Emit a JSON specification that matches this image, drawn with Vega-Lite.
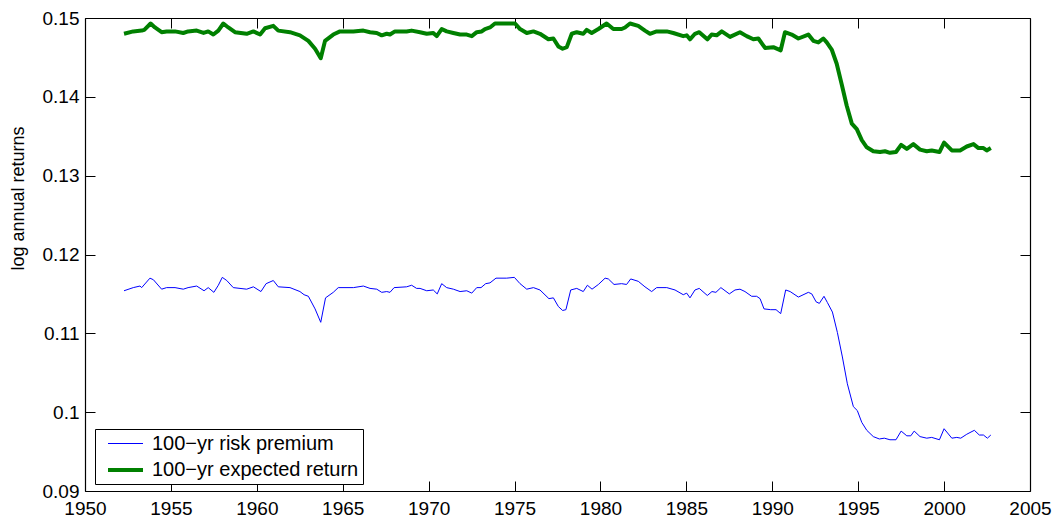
{
  "$schema": "https://vega.github.io/schema/vega-lite/v6.json",
  "width": 945,
  "height": 473,
  "autosize": {"type": "none"},
  "padding": {"left": 85, "top": 18, "right": 26, "bottom": 29},
  "background": "white",
  "config": {
    "view": {"stroke": null},
    "font": "Liberation Sans",
    "axis": {
      "domainColor": "black",
      "domainWidth": 1.2,
      "tickColor": "black",
      "tickWidth": 1,
      "tickSize": -10,
      "grid": false,
      "labelFont": "Liberation Sans",
      "labelFontSize": 19,
      "labelColor": "black",
      "titleFont": "Liberation Sans",
      "titleColor": "black",
      "titleFontWeight": "normal"
    }
  },
  "data": {
    "values": [
      {"year": 1952.27, "value": 0.1480, "series": "100−yr expected return"},
      {"year": 1952.81, "value": 0.1483, "series": "100−yr expected return"},
      {"year": 1953.30, "value": 0.1484, "series": "100−yr expected return"},
      {"year": 1953.45, "value": 0.1485, "series": "100−yr expected return"},
      {"year": 1953.82, "value": 0.1493, "series": "100−yr expected return"},
      {"year": 1954.07, "value": 0.1488, "series": "100−yr expected return"},
      {"year": 1954.46, "value": 0.1482, "series": "100−yr expected return"},
      {"year": 1954.75, "value": 0.1483, "series": "100−yr expected return"},
      {"year": 1955.24, "value": 0.1483, "series": "100−yr expected return"},
      {"year": 1955.72, "value": 0.1481, "series": "100−yr expected return"},
      {"year": 1956.00, "value": 0.1483, "series": "100−yr expected return"},
      {"year": 1956.50, "value": 0.1484, "series": "100−yr expected return"},
      {"year": 1956.90, "value": 0.1481, "series": "100−yr expected return"},
      {"year": 1957.17, "value": 0.1483, "series": "100−yr expected return"},
      {"year": 1957.47, "value": 0.1479, "series": "100−yr expected return"},
      {"year": 1957.76, "value": 0.1484, "series": "100−yr expected return"},
      {"year": 1958.05, "value": 0.1493, "series": "100−yr expected return"},
      {"year": 1958.34, "value": 0.1488, "series": "100−yr expected return"},
      {"year": 1958.73, "value": 0.1482, "series": "100−yr expected return"},
      {"year": 1959.41, "value": 0.1480, "series": "100−yr expected return"},
      {"year": 1959.80, "value": 0.1483, "series": "100−yr expected return"},
      {"year": 1960.19, "value": 0.1479, "series": "100−yr expected return"},
      {"year": 1960.48, "value": 0.1487, "series": "100−yr expected return"},
      {"year": 1960.96, "value": 0.1490, "series": "100−yr expected return"},
      {"year": 1961.25, "value": 0.1484, "series": "100−yr expected return"},
      {"year": 1961.93, "value": 0.1482, "series": "100−yr expected return"},
      {"year": 1962.51, "value": 0.1478, "series": "100−yr expected return"},
      {"year": 1963.00, "value": 0.1471, "series": "100−yr expected return"},
      {"year": 1963.39, "value": 0.1461, "series": "100−yr expected return"},
      {"year": 1963.72, "value": 0.1449, "series": "100−yr expected return"},
      {"year": 1963.97, "value": 0.1471, "series": "100−yr expected return"},
      {"year": 1964.45, "value": 0.1479, "series": "100−yr expected return"},
      {"year": 1964.84, "value": 0.1483, "series": "100−yr expected return"},
      {"year": 1965.62, "value": 0.1483, "series": "100−yr expected return"},
      {"year": 1966.20, "value": 0.1484, "series": "100−yr expected return"},
      {"year": 1966.59, "value": 0.1482, "series": "100−yr expected return"},
      {"year": 1966.98, "value": 0.1481, "series": "100−yr expected return"},
      {"year": 1967.27, "value": 0.1478, "series": "100−yr expected return"},
      {"year": 1967.56, "value": 0.1480, "series": "100−yr expected return"},
      {"year": 1967.75, "value": 0.1479, "series": "100−yr expected return"},
      {"year": 1968.04, "value": 0.1483, "series": "100−yr expected return"},
      {"year": 1968.72, "value": 0.1483, "series": "100−yr expected return"},
      {"year": 1969.01, "value": 0.1484, "series": "100−yr expected return"},
      {"year": 1969.50, "value": 0.1482, "series": "100−yr expected return"},
      {"year": 1969.89, "value": 0.1480, "series": "100−yr expected return"},
      {"year": 1970.27, "value": 0.1481, "series": "100−yr expected return"},
      {"year": 1970.47, "value": 0.1477, "series": "100−yr expected return"},
      {"year": 1970.76, "value": 0.1486, "series": "100−yr expected return"},
      {"year": 1971.05, "value": 0.1483, "series": "100−yr expected return"},
      {"year": 1971.44, "value": 0.1481, "series": "100−yr expected return"},
      {"year": 1971.83, "value": 0.1479, "series": "100−yr expected return"},
      {"year": 1972.22, "value": 0.1479, "series": "100−yr expected return"},
      {"year": 1972.51, "value": 0.1477, "series": "100−yr expected return"},
      {"year": 1972.80, "value": 0.1482, "series": "100−yr expected return"},
      {"year": 1973.09, "value": 0.1483, "series": "100−yr expected return"},
      {"year": 1973.28, "value": 0.1486, "series": "100−yr expected return"},
      {"year": 1973.57, "value": 0.1488, "series": "100−yr expected return"},
      {"year": 1973.86, "value": 0.1493, "series": "100−yr expected return"},
      {"year": 1974.35, "value": 0.1493, "series": "100−yr expected return"},
      {"year": 1974.93, "value": 0.1493, "series": "100−yr expected return"},
      {"year": 1975.03, "value": 0.1493, "series": "100−yr expected return"},
      {"year": 1975.32, "value": 0.1486, "series": "100−yr expected return"},
      {"year": 1975.71, "value": 0.1481, "series": "100−yr expected return"},
      {"year": 1976.10, "value": 0.1483, "series": "100−yr expected return"},
      {"year": 1976.48, "value": 0.1480, "series": "100−yr expected return"},
      {"year": 1976.97, "value": 0.1473, "series": "100−yr expected return"},
      {"year": 1977.26, "value": 0.1474, "series": "100−yr expected return"},
      {"year": 1977.55, "value": 0.1464, "series": "100−yr expected return"},
      {"year": 1977.80, "value": 0.1461, "series": "100−yr expected return"},
      {"year": 1978.04, "value": 0.1463, "series": "100−yr expected return"},
      {"year": 1978.33, "value": 0.1480, "series": "100−yr expected return"},
      {"year": 1978.62, "value": 0.1482, "series": "100−yr expected return"},
      {"year": 1979.00, "value": 0.1480, "series": "100−yr expected return"},
      {"year": 1979.20, "value": 0.1485, "series": "100−yr expected return"},
      {"year": 1979.49, "value": 0.1481, "series": "100−yr expected return"},
      {"year": 1979.88, "value": 0.1486, "series": "100−yr expected return"},
      {"year": 1980.36, "value": 0.1493, "series": "100−yr expected return"},
      {"year": 1980.75, "value": 0.1486, "series": "100−yr expected return"},
      {"year": 1981.23, "value": 0.1486, "series": "100−yr expected return"},
      {"year": 1981.43, "value": 0.1488, "series": "100−yr expected return"},
      {"year": 1981.72, "value": 0.1493, "series": "100−yr expected return"},
      {"year": 1982.20, "value": 0.1490, "series": "100−yr expected return"},
      {"year": 1982.59, "value": 0.1484, "series": "100−yr expected return"},
      {"year": 1982.88, "value": 0.1480, "series": "100−yr expected return"},
      {"year": 1983.27, "value": 0.1483, "series": "100−yr expected return"},
      {"year": 1983.86, "value": 0.1483, "series": "100−yr expected return"},
      {"year": 1984.24, "value": 0.1481, "series": "100−yr expected return"},
      {"year": 1984.82, "value": 0.1477, "series": "100−yr expected return"},
      {"year": 1985.02, "value": 0.1478, "series": "100−yr expected return"},
      {"year": 1985.21, "value": 0.1473, "series": "100−yr expected return"},
      {"year": 1985.50, "value": 0.1480, "series": "100−yr expected return"},
      {"year": 1985.75, "value": 0.1482, "series": "100−yr expected return"},
      {"year": 1986.22, "value": 0.1473, "series": "100−yr expected return"},
      {"year": 1986.47, "value": 0.1479, "series": "100−yr expected return"},
      {"year": 1986.76, "value": 0.1478, "series": "100−yr expected return"},
      {"year": 1987.06, "value": 0.1483, "series": "100−yr expected return"},
      {"year": 1987.54, "value": 0.1476, "series": "100−yr expected return"},
      {"year": 1988.12, "value": 0.1482, "series": "100−yr expected return"},
      {"year": 1988.51, "value": 0.1477, "series": "100−yr expected return"},
      {"year": 1988.90, "value": 0.1473, "series": "100−yr expected return"},
      {"year": 1989.19, "value": 0.1474, "series": "100−yr expected return"},
      {"year": 1989.58, "value": 0.1462, "series": "100−yr expected return"},
      {"year": 1990.06, "value": 0.1463, "series": "100−yr expected return"},
      {"year": 1990.49, "value": 0.1459, "series": "100−yr expected return"},
      {"year": 1990.74, "value": 0.1482, "series": "100−yr expected return"},
      {"year": 1991.13, "value": 0.1479, "series": "100−yr expected return"},
      {"year": 1991.52, "value": 0.1474, "series": "100−yr expected return"},
      {"year": 1992.10, "value": 0.1479, "series": "100−yr expected return"},
      {"year": 1992.39, "value": 0.1471, "series": "100−yr expected return"},
      {"year": 1992.68, "value": 0.1469, "series": "100−yr expected return"},
      {"year": 1992.97, "value": 0.1474, "series": "100−yr expected return"},
      {"year": 1993.17, "value": 0.1469, "series": "100−yr expected return"},
      {"year": 1993.46, "value": 0.1460, "series": "100−yr expected return"},
      {"year": 1993.75, "value": 0.1442, "series": "100−yr expected return"},
      {"year": 1994.04, "value": 0.1416, "series": "100−yr expected return"},
      {"year": 1994.33, "value": 0.1389, "series": "100−yr expected return"},
      {"year": 1994.63, "value": 0.1366, "series": "100−yr expected return"},
      {"year": 1994.92, "value": 0.1359, "series": "100−yr expected return"},
      {"year": 1995.21, "value": 0.1345, "series": "100−yr expected return"},
      {"year": 1995.50, "value": 0.1336, "series": "100−yr expected return"},
      {"year": 1995.88, "value": 0.1331, "series": "100−yr expected return"},
      {"year": 1996.27, "value": 0.1330, "series": "100−yr expected return"},
      {"year": 1996.56, "value": 0.1331, "series": "100−yr expected return"},
      {"year": 1996.85, "value": 0.1329, "series": "100−yr expected return"},
      {"year": 1997.20, "value": 0.1330, "series": "100−yr expected return"},
      {"year": 1997.50, "value": 0.1339, "series": "100−yr expected return"},
      {"year": 1997.83, "value": 0.1334, "series": "100−yr expected return"},
      {"year": 1998.21, "value": 0.1340, "series": "100−yr expected return"},
      {"year": 1998.60, "value": 0.1333, "series": "100−yr expected return"},
      {"year": 1998.99, "value": 0.1331, "series": "100−yr expected return"},
      {"year": 1999.28, "value": 0.1332, "series": "100−yr expected return"},
      {"year": 1999.73, "value": 0.1330, "series": "100−yr expected return"},
      {"year": 2000.00, "value": 0.1342, "series": "100−yr expected return"},
      {"year": 2000.45, "value": 0.1332, "series": "100−yr expected return"},
      {"year": 2000.93, "value": 0.1332, "series": "100−yr expected return"},
      {"year": 2001.32, "value": 0.1337, "series": "100−yr expected return"},
      {"year": 2001.71, "value": 0.1340, "series": "100−yr expected return"},
      {"year": 2002.00, "value": 0.1335, "series": "100−yr expected return"},
      {"year": 2002.29, "value": 0.1335, "series": "100−yr expected return"},
      {"year": 2002.48, "value": 0.1332, "series": "100−yr expected return"},
      {"year": 2002.72, "value": 0.1335, "series": "100−yr expected return"},

      {"year": 1952.27, "value": 0.1154, "series": "100−yr risk premium"},
      {"year": 1952.81, "value": 0.1158, "series": "100−yr risk premium"},
      {"year": 1953.20, "value": 0.1160, "series": "100−yr risk premium"},
      {"year": 1953.30, "value": 0.1158, "series": "100−yr risk premium"},
      {"year": 1953.78, "value": 0.1170, "series": "100−yr risk premium"},
      {"year": 1953.98, "value": 0.1168, "series": "100−yr risk premium"},
      {"year": 1954.46, "value": 0.1156, "series": "100−yr risk premium"},
      {"year": 1954.75, "value": 0.1158, "series": "100−yr risk premium"},
      {"year": 1955.24, "value": 0.1158, "series": "100−yr risk premium"},
      {"year": 1955.72, "value": 0.1156, "series": "100−yr risk premium"},
      {"year": 1956.00, "value": 0.1158, "series": "100−yr risk premium"},
      {"year": 1956.50, "value": 0.1160, "series": "100−yr risk premium"},
      {"year": 1956.93, "value": 0.1154, "series": "100−yr risk premium"},
      {"year": 1957.17, "value": 0.1158, "series": "100−yr risk premium"},
      {"year": 1957.50, "value": 0.1152, "series": "100−yr risk premium"},
      {"year": 1957.76, "value": 0.1161, "series": "100−yr risk premium"},
      {"year": 1957.99, "value": 0.1171, "series": "100−yr risk premium"},
      {"year": 1958.25, "value": 0.1167, "series": "100−yr risk premium"},
      {"year": 1958.63, "value": 0.1158, "series": "100−yr risk premium"},
      {"year": 1959.41, "value": 0.1156, "series": "100−yr risk premium"},
      {"year": 1959.80, "value": 0.1159, "series": "100−yr risk premium"},
      {"year": 1960.24, "value": 0.1153, "series": "100−yr risk premium"},
      {"year": 1960.54, "value": 0.1163, "series": "100−yr risk premium"},
      {"year": 1960.96, "value": 0.1167, "series": "100−yr risk premium"},
      {"year": 1961.25, "value": 0.1159, "series": "100−yr risk premium"},
      {"year": 1961.93, "value": 0.1158, "series": "100−yr risk premium"},
      {"year": 1962.51, "value": 0.1153, "series": "100−yr risk premium"},
      {"year": 1962.75, "value": 0.1149, "series": "100−yr risk premium"},
      {"year": 1963.00, "value": 0.1147, "series": "100−yr risk premium"},
      {"year": 1963.39, "value": 0.1131, "series": "100−yr risk premium"},
      {"year": 1963.72, "value": 0.1114, "series": "100−yr risk premium"},
      {"year": 1964.00, "value": 0.1145, "series": "100−yr risk premium"},
      {"year": 1964.45, "value": 0.1152, "series": "100−yr risk premium"},
      {"year": 1964.74, "value": 0.1158, "series": "100−yr risk premium"},
      {"year": 1965.62, "value": 0.1158, "series": "100−yr risk premium"},
      {"year": 1966.20, "value": 0.1160, "series": "100−yr risk premium"},
      {"year": 1966.59, "value": 0.1157, "series": "100−yr risk premium"},
      {"year": 1966.98, "value": 0.1156, "series": "100−yr risk premium"},
      {"year": 1967.27, "value": 0.1152, "series": "100−yr risk premium"},
      {"year": 1967.56, "value": 0.1153, "series": "100−yr risk premium"},
      {"year": 1967.75, "value": 0.1152, "series": "100−yr risk premium"},
      {"year": 1967.99, "value": 0.1158, "series": "100−yr risk premium"},
      {"year": 1968.72, "value": 0.1159, "series": "100−yr risk premium"},
      {"year": 1969.01, "value": 0.1161, "series": "100−yr risk premium"},
      {"year": 1969.30, "value": 0.1157, "series": "100−yr risk premium"},
      {"year": 1969.50, "value": 0.1157, "series": "100−yr risk premium"},
      {"year": 1969.89, "value": 0.1154, "series": "100−yr risk premium"},
      {"year": 1970.27, "value": 0.1155, "series": "100−yr risk premium"},
      {"year": 1970.50, "value": 0.1150, "series": "100−yr risk premium"},
      {"year": 1970.76, "value": 0.1163, "series": "100−yr risk premium"},
      {"year": 1971.05, "value": 0.1158, "series": "100−yr risk premium"},
      {"year": 1971.44, "value": 0.1156, "series": "100−yr risk premium"},
      {"year": 1971.83, "value": 0.1153, "series": "100−yr risk premium"},
      {"year": 1972.22, "value": 0.1154, "series": "100−yr risk premium"},
      {"year": 1972.51, "value": 0.1151, "series": "100−yr risk premium"},
      {"year": 1972.80, "value": 0.1158, "series": "100−yr risk premium"},
      {"year": 1973.05, "value": 0.1158, "series": "100−yr risk premium"},
      {"year": 1973.32, "value": 0.1163, "series": "100−yr risk premium"},
      {"year": 1973.57, "value": 0.1164, "series": "100−yr risk premium"},
      {"year": 1973.92, "value": 0.1170, "series": "100−yr risk premium"},
      {"year": 1974.54, "value": 0.1170, "series": "100−yr risk premium"},
      {"year": 1974.99, "value": 0.1171, "series": "100−yr risk premium"},
      {"year": 1975.32, "value": 0.1163, "series": "100−yr risk premium"},
      {"year": 1975.71, "value": 0.1156, "series": "100−yr risk premium"},
      {"year": 1976.10, "value": 0.1158, "series": "100−yr risk premium"},
      {"year": 1976.48, "value": 0.1155, "series": "100−yr risk premium"},
      {"year": 1977.00, "value": 0.1144, "series": "100−yr risk premium"},
      {"year": 1977.26, "value": 0.1145, "series": "100−yr risk premium"},
      {"year": 1977.55, "value": 0.1134, "series": "100−yr risk premium"},
      {"year": 1977.80, "value": 0.1129, "series": "100−yr risk premium"},
      {"year": 1977.99, "value": 0.1130, "series": "100−yr risk premium"},
      {"year": 1978.27, "value": 0.1155, "series": "100−yr risk premium"},
      {"year": 1978.62, "value": 0.1157, "series": "100−yr risk premium"},
      {"year": 1979.00, "value": 0.1153, "series": "100−yr risk premium"},
      {"year": 1979.24, "value": 0.1161, "series": "100−yr risk premium"},
      {"year": 1979.51, "value": 0.1156, "series": "100−yr risk premium"},
      {"year": 1979.88, "value": 0.1162, "series": "100−yr risk premium"},
      {"year": 1980.27, "value": 0.1170, "series": "100−yr risk premium"},
      {"year": 1980.46, "value": 0.1169, "series": "100−yr risk premium"},
      {"year": 1980.79, "value": 0.1162, "series": "100−yr risk premium"},
      {"year": 1981.23, "value": 0.1163, "series": "100−yr risk premium"},
      {"year": 1981.52, "value": 0.1162, "series": "100−yr risk premium"},
      {"year": 1981.76, "value": 0.1169, "series": "100−yr risk premium"},
      {"year": 1982.20, "value": 0.1166, "series": "100−yr risk premium"},
      {"year": 1982.59, "value": 0.1159, "series": "100−yr risk premium"},
      {"year": 1982.98, "value": 0.1153, "series": "100−yr risk premium"},
      {"year": 1983.27, "value": 0.1158, "series": "100−yr risk premium"},
      {"year": 1983.86, "value": 0.1158, "series": "100−yr risk premium"},
      {"year": 1984.34, "value": 0.1155, "series": "100−yr risk premium"},
      {"year": 1984.82, "value": 0.1149, "series": "100−yr risk premium"},
      {"year": 1985.02, "value": 0.1151, "series": "100−yr risk premium"},
      {"year": 1985.21, "value": 0.1145, "series": "100−yr risk premium"},
      {"year": 1985.50, "value": 0.1155, "series": "100−yr risk premium"},
      {"year": 1985.75, "value": 0.1157, "series": "100−yr risk premium"},
      {"year": 1986.22, "value": 0.1148, "series": "100−yr risk premium"},
      {"year": 1986.49, "value": 0.1153, "series": "100−yr risk premium"},
      {"year": 1986.72, "value": 0.1152, "series": "100−yr risk premium"},
      {"year": 1987.01, "value": 0.1158, "series": "100−yr risk premium"},
      {"year": 1987.50, "value": 0.1150, "series": "100−yr risk premium"},
      {"year": 1987.83, "value": 0.1155, "series": "100−yr risk premium"},
      {"year": 1988.12, "value": 0.1156, "series": "100−yr risk premium"},
      {"year": 1988.41, "value": 0.1153, "series": "100−yr risk premium"},
      {"year": 1988.80, "value": 0.1147, "series": "100−yr risk premium"},
      {"year": 1989.09, "value": 0.1147, "series": "100−yr risk premium"},
      {"year": 1989.29, "value": 0.1144, "series": "100−yr risk premium"},
      {"year": 1989.52, "value": 0.1131, "series": "100−yr risk premium"},
      {"year": 1989.91, "value": 0.1130, "series": "100−yr risk premium"},
      {"year": 1990.22, "value": 0.1130, "series": "100−yr risk premium"},
      {"year": 1990.49, "value": 0.1125, "series": "100−yr risk premium"},
      {"year": 1990.78, "value": 0.1155, "series": "100−yr risk premium"},
      {"year": 1991.04, "value": 0.1153, "series": "100−yr risk premium"},
      {"year": 1991.52, "value": 0.1146, "series": "100−yr risk premium"},
      {"year": 1992.10, "value": 0.1152, "series": "100−yr risk premium"},
      {"year": 1992.30, "value": 0.1150, "series": "100−yr risk premium"},
      {"year": 1992.55, "value": 0.1140, "series": "100−yr risk premium"},
      {"year": 1992.74, "value": 0.1138, "series": "100−yr risk premium"},
      {"year": 1993.01, "value": 0.1147, "series": "100−yr risk premium"},
      {"year": 1993.21, "value": 0.1139, "series": "100−yr risk premium"},
      {"year": 1993.50, "value": 0.1127, "series": "100−yr risk premium"},
      {"year": 1993.79, "value": 0.1101, "series": "100−yr risk premium"},
      {"year": 1994.08, "value": 0.1070, "series": "100−yr risk premium"},
      {"year": 1994.37, "value": 0.1036, "series": "100−yr risk premium"},
      {"year": 1994.72, "value": 0.1007, "series": "100−yr risk premium"},
      {"year": 1994.95, "value": 0.1002, "series": "100−yr risk premium"},
      {"year": 1995.21, "value": 0.0987, "series": "100−yr risk premium"},
      {"year": 1995.50, "value": 0.0977, "series": "100−yr risk premium"},
      {"year": 1995.88, "value": 0.0969, "series": "100−yr risk premium"},
      {"year": 1996.23, "value": 0.0966, "series": "100−yr risk premium"},
      {"year": 1996.52, "value": 0.0967, "series": "100−yr risk premium"},
      {"year": 1996.85, "value": 0.0965, "series": "100−yr risk premium"},
      {"year": 1997.20, "value": 0.0965, "series": "100−yr risk premium"},
      {"year": 1997.50, "value": 0.0976, "series": "100−yr risk premium"},
      {"year": 1997.83, "value": 0.0970, "series": "100−yr risk premium"},
      {"year": 1998.06, "value": 0.0970, "series": "100−yr risk premium"},
      {"year": 1998.26, "value": 0.0976, "series": "100−yr risk premium"},
      {"year": 1998.60, "value": 0.0969, "series": "100−yr risk premium"},
      {"year": 1998.99, "value": 0.0967, "series": "100−yr risk premium"},
      {"year": 1999.28, "value": 0.0968, "series": "100−yr risk premium"},
      {"year": 1999.73, "value": 0.0965, "series": "100−yr risk premium"},
      {"year": 2000.00, "value": 0.0979, "series": "100−yr risk premium"},
      {"year": 2000.45, "value": 0.0967, "series": "100−yr risk premium"},
      {"year": 2000.74, "value": 0.0968, "series": "100−yr risk premium"},
      {"year": 2000.97, "value": 0.0967, "series": "100−yr risk premium"},
      {"year": 2001.32, "value": 0.0972, "series": "100−yr risk premium"},
      {"year": 2001.76, "value": 0.0977, "series": "100−yr risk premium"},
      {"year": 2002.05, "value": 0.0971, "series": "100−yr risk premium"},
      {"year": 2002.29, "value": 0.0971, "series": "100−yr risk premium"},
      {"year": 2002.52, "value": 0.0967, "series": "100−yr risk premium"},
      {"year": 2002.72, "value": 0.0971, "series": "100−yr risk premium"}
    ]
  },
  "layer": [
    {
      "mark": {"type": "line", "strokeJoin": "round", "strokeCap": "butt"},
      "encoding": {
        "x": {
          "field": "year", "type": "quantitative",
          "scale": {"domain": [1950, 2005], "nice": false, "zero": false},
          "axis": {"orient": "bottom", "title": null, "values": [1950, 1955, 1960, 1965, 1970, 1975, 1980, 1985, 1990, 1995, 2000, 2005], "format": "d", "labelPadding": 18, "labelFlush": false, "labelOverlap": false}
        },
        "y": {
          "field": "value", "type": "quantitative",
          "scale": {"domain": [0.09, 0.15], "nice": false, "zero": false},
          "axis": {"orient": "left", "title": "log annual returns", "titleFontSize": 18, "titleX": -67, "titleY": 180, "titleAlign": "center", "titleBaseline": "middle", "titleAngle": -90, "values": [0.09, 0.1, 0.11, 0.12, 0.13, 0.14, 0.15], "format": "~g", "labelPadding": 16, "labelFlush": false, "labelOverlap": false}
        },
        "color": {
          "field": "series", "type": "nominal",
          "scale": {"domain": ["100−yr risk premium", "100−yr expected return"], "range": ["#0000ff", "#008000"]},
          "legend": {"orient": "none", "legendX": 10, "legendY": 411, "title": null, "strokeColor": "black", "fillColor": "white", "padding": 4, "symbolType": "M-1,0H2.5", "symbolSize": 400, "symbolOffset": 7, "labelFontSize": 20, "labelFont": "Liberation Sans", "labelColor": "black", "labelOffset": 22, "labelLimit": 500, "rowPadding": 4, "labelExpr": "datum.label + '\u2003'"}
        },
        "strokeWidth": {
          "field": "series", "type": "nominal",
          "scale": {"domain": ["100−yr risk premium", "100−yr expected return"], "range": [1, 4]},
          "legend": {"orient": "none", "legendX": 10, "legendY": 411, "title": null, "strokeColor": "black", "fillColor": "white", "padding": 4, "symbolType": "M-1,0H2.5", "symbolSize": 400, "symbolOffset": 7, "labelFontSize": 20, "labelFont": "Liberation Sans", "labelColor": "black", "labelOffset": 22, "labelLimit": 500, "rowPadding": 4, "labelExpr": "datum.label + '\u2003'"}
        }
      }
    },
    {
      "mark": {"type": "line", "opacity": 0},
      "encoding": {
        "x": {
          "field": "year", "type": "quantitative",
          "axis": {"orient": "top", "title": null, "labels": false, "values": [1950, 1955, 1960, 1965, 1970, 1975, 1980, 1985, 1990, 1995, 2000, 2005]}
        },
        "y": {
          "field": "value", "type": "quantitative",
          "axis": {"orient": "right", "title": null, "labels": false, "values": [0.09, 0.1, 0.11, 0.12, 0.13, 0.14, 0.15]}
        },
        "detail": {"field": "series"}
      }
    }
  ],
  "resolve": {"axis": {"x": "independent", "y": "independent"}}
}
